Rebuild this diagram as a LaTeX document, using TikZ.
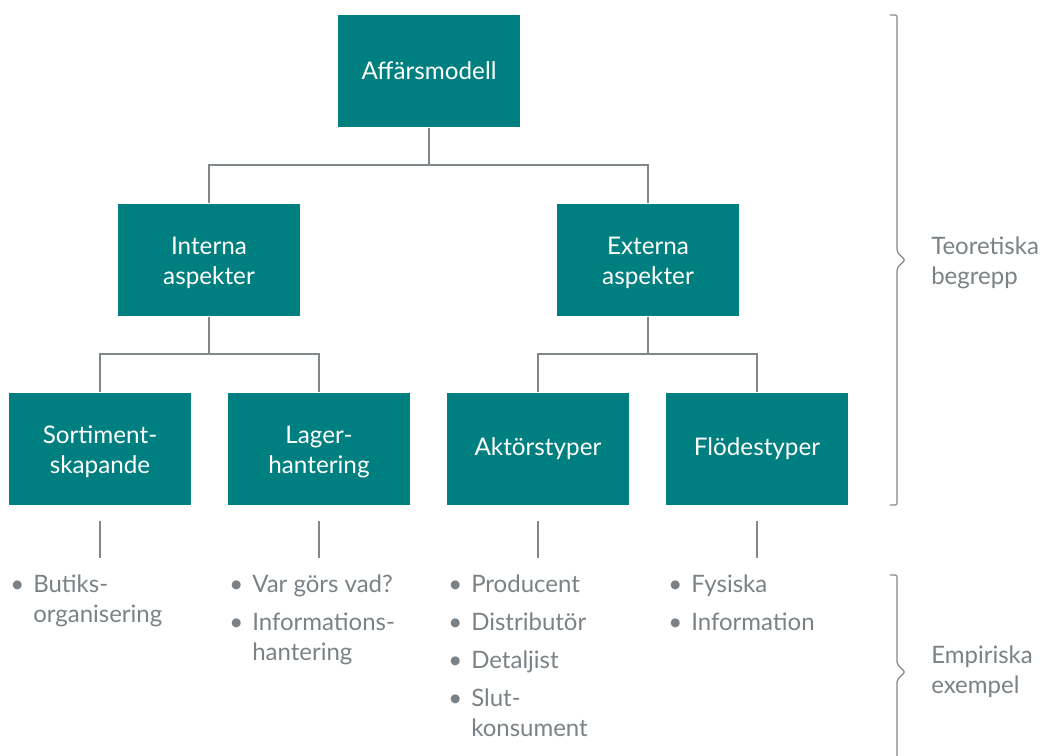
\documentclass[tikz,border=0pt]{standalone}
\usepackage{fontspec}
\setmainfont{Lato}
\definecolor{boxteal}{HTML}{007F80}
\definecolor{linegray}{HTML}{80888C}
\definecolor{textgray}{HTML}{7A8287}
\newcommand\twolines[2]{\raisebox{-2.25pt}[\height][\depth]{\begin{tabular}{@{}c@{}}#1\\#2\end{tabular}}}
\begin{document}
\begin{tikzpicture}[x=0.75pt,y=-0.75pt,
  box/.style={fill=boxteal, text=white, minimum width=136.5pt, minimum height=84.5pt,
    inner sep=0pt, align=center, font=\fontsize{18.2}{22.5}\selectfont},
  link/.style={draw=linegray, line width=0.9pt},
  brace/.style={draw=linegray, line width=0.9pt, rounded corners=1.5pt},
  lst/.style={anchor=base west, inner sep=0pt, text=textgray, font=\fontsize{18}{22.5}\selectfont},
  side/.style={anchor=west, inner sep=0pt, align=left, text=textgray, font=\fontsize{18}{22.5}\selectfont}]
\useasboundingbox (0,0) rectangle (1043,756);

% hierarchy of boxes
\node[box] (am) at (429,71) {Affärsmodell};
\node[box] (ia) at (209,260) {\twolines{Interna}{aspekter}};
\node[box] (ea) at (648,260) {\twolines{Externa}{aspekter}};
\node[box] (ss) at (100,449) {\twolines{Sortiment-}{skapande}};
\node[box] (lh) at (319,449) {\twolines{Lager-}{hantering}};
\node[box] (at) at (538,449) {Aktörstyper};
\node[box] (ft) at (757,449) {Flödestyper};

% tree connectors
\draw[link] (am.south) |- (429,165) -| (ia.north);
\draw[link] (429,165) -| (ea.north);
\draw[link] (ia.south) |- (209,354) -| (ss.north);
\draw[link] (209,354) -| (lh.north);
\draw[link] (ea.south) |- (648,354) -| (at.north);
\draw[link] (648,354) -| (ft.north);

% short stems above the example lists
\foreach \n/\x in {s1/100,s2/319,s3/538,s4/757}{
  \coordinate (\n a) at (\x,521);
  \coordinate (\n b) at (\x,558);
  \draw[link] (\n a) -- (\n b);
}

% example lists
\newcommand\bl{\textbullet}
\node[lst] (l1) at (10,592) {\begin{tabular}[t]{@{}p{17.25pt}@{}l@{}}
  \bl & Butiks-\\ & organisering\end{tabular}};
\node[lst] (l2) at (229,592) {\begin{tabular}[t]{@{}p{17.25pt}@{}l@{}}
  \bl & Var görs vad?\\[6pt] \bl & Informations-\\ & hantering\end{tabular}};
\node[lst] (l3) at (448,592) {\begin{tabular}[t]{@{}p{17.25pt}@{}l@{}}
  \bl & Producent\\[6pt] \bl & Distributör\\[6pt] \bl & Detaljist\\[6pt]
  \bl & Slut-\\ & konsument\end{tabular}};
\node[lst] (l4) at (668,592) {\begin{tabular}[t]{@{}p{17.25pt}@{}l@{}}
  \bl & Fysiska\\[6pt] \bl & Information\end{tabular}};

% braces with their labels
\draw[brace] (890,15) -- (897,15) -- (897,252) -- (905,260) -- (897,268) -- (897,505) -- (890,505);
\draw[brace] (890,575) -- (897,575) -- (897,664) -- (905,672) -- (897,680) -- (897,762);
\node[side] (tb) at (931,263) {Teoretiska\\begrepp};
\node[side] (ee) at (931,672) {Empiriska\\exempel};
\end{tikzpicture}
\end{document}
